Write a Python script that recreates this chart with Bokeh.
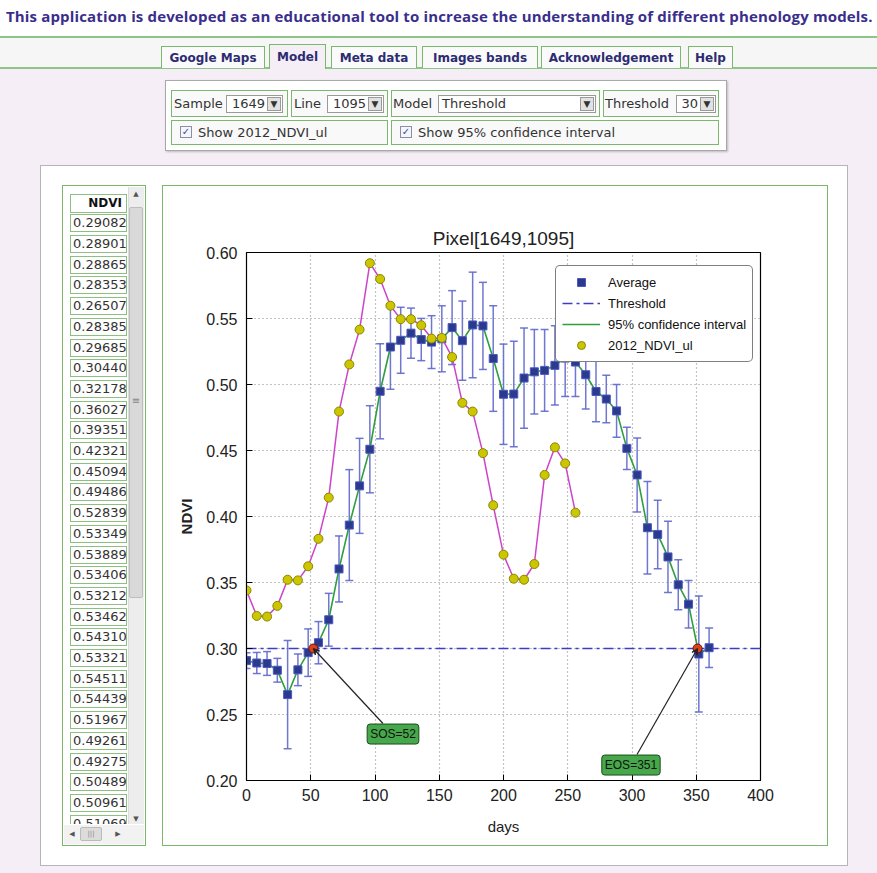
from bokeh.plotting import figure
from bokeh.models import (ColumnDataSource, Whisker, TeeHead, Legend, LegendItem, Label,
                          Arrow, VeeHead, FixedTicker, Div, Range1d)
from bokeh.layouts import column, row
from bokeh.embed import file_html
from bokeh.resources import INLINE

# ---------------- data ----------------
AVG_DAYS = [0, 8, 16, 24, 32, 40, 48, 56, 64, 72, 80, 88, 96, 104, 112, 120, 128, 136, 144, 152,
            160, 168, 176, 184, 192, 200, 208, 216, 224, 232, 240, 248, 256, 264, 272, 280, 288,
            296, 304, 312, 320, 328, 336, 344, 352, 360]
AVG_NDVI = [0.29082, 0.28901, 0.28865, 0.28353, 0.26507, 0.28385, 0.29685, 0.30440, 0.32178,
            0.36027, 0.39351, 0.42321, 0.45094, 0.49486, 0.52839, 0.53349, 0.53889, 0.53406,
            0.53212, 0.53462, 0.54310, 0.53321, 0.54511, 0.54439, 0.51967, 0.49261, 0.49275,
            0.50489, 0.50961, 0.51069, 0.51450, 0.52000, 0.51700, 0.50740, 0.49470, 0.48900,
            0.48000, 0.45160, 0.43150, 0.39150, 0.38640, 0.36940, 0.34830, 0.33360, 0.29580,
            0.30060]
AVG_ERR = [0.006, 0.008, 0.009, 0.009, 0.041, 0.012, 0.018, 0.016, 0.020, 0.025, 0.042, 0.036,
           0.033, 0.036, 0.032, 0.025, 0.019, 0.016, 0.020, 0.025, 0.028, 0.030, 0.040, 0.033,
           0.040, 0.038, 0.040, 0.038, 0.032, 0.031, 0.030, 0.029, 0.026, 0.026, 0.023, 0.018,
           0.020, 0.016, 0.028, 0.035, 0.026, 0.027, 0.019, 0.018, 0.044, 0.015]
NDVI2012_DAYS = [0, 8, 16, 24, 32, 40, 48, 56, 64, 72, 80, 88, 96, 104, 112, 120, 128, 136, 144,
                 152, 160, 168, 176, 184, 192, 200, 208, 216, 224, 232, 240, 248, 256]
NDVI2012 = [0.3440, 0.3247, 0.3242, 0.3323, 0.3521, 0.3516, 0.3623, 0.3831, 0.4143, 0.4795,
            0.5152, 0.5416, 0.5919, 0.5799, 0.5597, 0.5495, 0.5495, 0.5449, 0.5348, 0.5353,
            0.5208, 0.4861, 0.4795, 0.4480, 0.4085, 0.3711, 0.3529, 0.3521, 0.3640, 0.4315,
            0.4524, 0.4402, 0.4029]
THRESHOLD = 0.30
SOS_DAY = 52
EOS_DAY = 351
X_MIN, X_MAX = 0, 400
Y_MIN, Y_MAX = 0.20, 0.60
X_TICKS = [0, 50, 100, 150, 200, 250, 300, 350, 400]
Y_TICKS = [0.20, 0.25, 0.30, 0.35, 0.40, 0.45, 0.50, 0.55, 0.60]
Y_TICK_LABELS = ["0.20", "0.25", "0.30", "0.35", "0.40", "0.45", "0.50", "0.55", "0.60"]
SAMPLE = "1649"
LINE = "1095"
MODEL = "Threshold"
THRESHOLD_PCT = "30"
TABS = ["Google Maps", "Model", "Meta data", "Images bands", "Acknowledgement", "Help"]
HEADER = ("This application is developed as an educational tool to increase the "
          "understanding of different phenology models.")
TABLE_ROWS_SHOWN = 30

# annotation placement (label centre and arrow tail, data units)
SOS_LABEL_POS = (114.0, 0.2352)
SOS_ARROW_TAIL = (106.2, 0.2432)
EOS_LABEL_POS = (299.2, 0.2117)
EOS_ARROW_TAIL = (303.9, 0.2197)

# ---------------- chart ----------------
FONT = "Liberation Sans"
p = figure(width=664, height=659, x_range=Range1d(X_MIN, X_MAX), y_range=Range1d(Y_MIN, Y_MAX),
           output_backend="svg", toolbar_location=None,
           min_border_left=83, min_border_right=67, min_border_top=66, min_border_bottom=65,
           background_fill_color="white", border_fill_color="white", margin=(0, 0, 0, 0))
p.title.text = f"Pixel[{SAMPLE},{LINE}]"
p.title.align = "center"
p.title.text_font = FONT
p.title.text_font_size = "19px"
p.title.text_font_style = "normal"
p.title.text_color = "#222222"
p.title.standoff = 7
p.outline_line_color = "black"
p.outline_line_width = 1.2

xt = FixedTicker(ticks=X_TICKS)
yt = FixedTicker(ticks=Y_TICKS)
p.xaxis.ticker = xt
p.yaxis.ticker = yt
p.xgrid.ticker = xt
p.ygrid.ticker = yt
p.yaxis.major_label_overrides = {t: s for t, s in zip(Y_TICKS, Y_TICK_LABELS)}
for ax in (p.xaxis[0], p.yaxis[0]):
    ax.major_tick_in = 6
    ax.major_tick_out = 0
    ax.minor_tick_line_color = None
    ax.axis_line_color = "black"
    ax.major_tick_line_color = "black"
    ax.major_label_text_font = FONT
    ax.major_label_text_font_size = "16px"
    ax.major_label_text_color = "#222222"
    ax.axis_label_text_font = FONT
    ax.axis_label_text_font_size = "15px"
    ax.axis_label_text_color = "#222222"
p.xaxis.major_label_standoff = 8
p.yaxis.major_label_standoff = 9
p.xaxis.axis_label = "days"
p.xaxis.axis_label_text_font_style = "normal"
p.xaxis.axis_label_standoff = 14
p.yaxis.axis_label = "NDVI"
p.yaxis.axis_label_text_font_style = "bold"
p.yaxis.axis_label_standoff = 8
for g in (p.xgrid[0], p.ygrid[0]):
    g.grid_line_color = "#8a8a8a"
    g.grid_line_dash = "1 3"
    g.grid_line_width = 1.2

src = ColumnDataSource(dict(
    x=AVG_DAYS, y=AVG_NDVI,
    upper=[v + e for v, e in zip(AVG_NDVI, AVG_ERR)],
    lower=[v - e for v, e in zip(AVG_NDVI, AVG_ERR)]))

ERR_COL = "#5f68cc"
r_th = p.line(x=[X_MIN, X_MAX], y=[THRESHOLD, THRESHOLD], line_color="#3c3cc8",
              line_width=1.6, line_dash="10 4 3 4")
wh = Whisker(source=src, base="x", upper="upper", lower="lower", line_color=ERR_COL,
             line_width=1.5, line_alpha=0.9,
             upper_head=TeeHead(size=8, line_color=ERR_COL, line_width=1.5, line_alpha=0.9),
             lower_head=TeeHead(size=8, line_color=ERR_COL, line_width=1.5, line_alpha=0.9))
p.add_layout(wh)
r_green = p.line("x", "y", source=src, line_color="#2e9e3e", line_width=1.6)
r_sq = p.scatter("x", "y", source=src, marker="square", size=8, fill_color="#2c3a8e",
                 line_color="#4a58c0", line_width=1)
r_pink = p.line(NDVI2012_DAYS, NDVI2012, line_color="#cc44c8", line_width=1.5)
r_circ = p.scatter(NDVI2012_DAYS, NDVI2012, marker="circle", size=9, fill_color="#cbc600",
                   line_color="#8a8600", line_width=1)
p.scatter([SOS_DAY, EOS_DAY], [THRESHOLD, THRESHOLD], marker="circle", size=9,
          fill_color="#e0401a", line_color="#5a1a10", line_width=1)

for (lx, ly), (ax_, ay_), day, txt in ((SOS_LABEL_POS, SOS_ARROW_TAIL, SOS_DAY, f"SOS={SOS_DAY}"),
                                       (EOS_LABEL_POS, EOS_ARROW_TAIL, EOS_DAY, f"EOS={EOS_DAY}")):
    p.add_layout(Arrow(x_start=ax_, y_start=ay_, x_end=day, y_end=THRESHOLD,
                       line_color="#222222", line_width=1.2,
                       end=VeeHead(size=6, fill_color="#222222", line_color="#222222")))
    p.add_layout(Label(x=lx, y=ly, text=txt, text_align="center", text_baseline="middle",
                       text_font=FONT, text_font_size="12px", text_color="#111111",
                       background_fill_color="#46a84a", border_line_color="#1d4d1d",
                       border_line_width=1, padding=3, border_radius=3))

legend = Legend(items=[LegendItem(label="Average", renderers=[r_sq]),
                       LegendItem(label="Threshold", renderers=[r_th]),
                       LegendItem(label="95% confidence interval", renderers=[r_green]),
                       LegendItem(label="2012_NDVI_ul", renderers=[r_circ])],
                location=(309, 418), padding=6, spacing=1, glyph_width=38, glyph_height=20,
                label_height=20, label_standoff=8, label_text_font=FONT,
                label_text_font_size="13px", label_text_color="#111111",
                border_line_color="black", border_line_width=1,
                background_fill_color="white", background_fill_alpha=1.0)
if "border_radius" in Legend.properties():
    legend.border_radius = 5
p.add_layout(legend)

# ---------------- page chrome ----------------
LAV = "#f6eef6"
GREEN = "#7ab86c"
SANS = "'DejaVu Sans', sans-serif"
E = []


def el(x, y, w, h, style="", inner=""):
    E.append((x, y, w, h, style, inner))


el(0, 0, 877, 873, f"background:{LAV};")
el(0, 0, 877, 37, "background:#ffffff;")
el(6, 5, 871, 22, "color:#3a2e8c;font:bold 15px 'Open Sans',sans-serif;white-space:nowrap;"
   "line-height:22px;letter-spacing:0.15px;", HEADER)
el(0, 36, 877, 2, "background:#8cc585;")
el(0, 38, 877, 30, "background:#f6f6f6;")
el(0, 67, 877, 2, "background:#8cc585;")
tab_geo = [(161, 104), (269, 57), (331, 86), (422, 116), (541, 140), (688, 45)]
for name, (tx, tw) in zip(TABS, tab_geo):
    active = name == "Model"
    top = 44 if active else 46
    hh = 25 if active else 22
    bg = LAV if active else "#fafafa"
    el(tx, top, tw, hh, f"background:{bg};border:1px solid {GREEN};border-bottom:none;"
       f"color:#2c2c72;font:bold 12px {SANS};text-align:center;line-height:{hh}px;"
       "white-space:nowrap;", name)

# controls panel
el(165, 80, 562, 71, "background:#ffffff;border:1px solid #a8a8a8;box-shadow:1px 1px 2px #bbbbbb;")
BOX = f"background:#f9f9f9;border:1px solid {GREEN};"
LBL = f"color:#333333;font:13px {SANS};line-height:17px;white-space:nowrap;"
SEL = "background:#ffffff;border:1px solid #9a9a9a;"
ARR = (f"background:#e2e2e2;border:1px solid #9a9a9a;color:#333;font:9px {SANS};"
       "text-align:center;line-height:13px;")


def select(x, w, val, left=False):
    el(x, 95, w, 18, SEL)
    align = "left;padding-left:4px" if left else "right;padding-right:18px"
    el(x, 95, w, 18, f"color:#333333;font:13px {SANS};line-height:17px;text-align:{align};"
       "white-space:nowrap;", val)
    el(x + w - 16, 97, 14, 14, ARR, "▼")


el(171, 90, 117, 27, BOX)
el(174, 95, 50, 18, LBL, "Sample")
select(226, 57, SAMPLE)
el(291, 90, 97, 27, BOX)
el(294, 95, 30, 18, LBL, "Line")
select(327, 57, LINE)
el(391, 90, 209, 27, BOX)
el(393, 95, 44, 18, LBL, "Model")
select(438, 158, MODEL, left=True)
el(603, 90, 116, 27, BOX)
el(605, 95, 68, 18, LBL, "Threshold")
select(676, 40, THRESHOLD_PCT)
CHK = (f"background:#f4f6fb;border:1px solid #8a8fa8;color:#3b4fa8;font:10px {SANS};"
       "text-align:center;line-height:10px;")
el(171, 120, 217, 25, BOX)
el(180, 126, 12, 12, CHK, "✓")
el(198, 124, 180, 18, LBL, "Show 2012_NDVI_ul")
el(391, 120, 328, 25, BOX)
el(400, 126, 12, 12, CHK, "✓")
el(418, 124, 290, 18, LBL, "Show 95% confidence interval")

# main panel
el(40, 165, 808, 701, "background:#ffffff;border:1px solid #b5b5b5;")
el(62, 185, 84, 661, f"background:#ffffff;border:1px solid {GREEN};")
CELL = (f"position:absolute;left:0;width:57px;height:18px;box-sizing:border-box;"
        f"background:#fff;border:1px solid #8cbf80;overflow:hidden;white-space:nowrap;")
cells = [f'<div style="{CELL}top:0;height:19px;text-align:right;padding-right:4px;'
         f'font:bold 12px {SANS};line-height:17px;color:#111;">NDVI</div>']
for i, v in enumerate(AVG_NDVI[:TABLE_ROWS_SHOWN]):
    top = 20.3 + i * 20.7
    cells.append(f'<div style="{CELL}top:{top:.1f}px;padding-left:2px;font:13px {SANS};'
                 f'line-height:16px;color:#333;">{v:.5f}</div>')
el(70, 194, 58, 630, "overflow:hidden;", "".join(cells))
# scrollbars
el(128, 187, 16, 637, "background:#ededed;border-left:1px solid #dcdcdc;")
el(128, 189, 16, 10, f"color:#555;font:7px {SANS};text-align:center;line-height:10px;", "▲")
el(129, 207, 14, 391, "background:#d9d9d9;border:1px solid #bdbdbd;border-radius:2px;")
el(129, 395, 14, 12, f"color:#888;font:10px {SANS};text-align:center;line-height:12px;", "≡")
el(128, 814, 16, 10, f"color:#555;font:7px {SANS};text-align:center;line-height:10px;", "▼")
el(64, 825, 80, 19, "background:#f2f2f2;")
el(66, 829, 12, 10, f"color:#555;font:7px {SANS};text-align:center;line-height:10px;", "◀")
el(80, 827, 22, 14, "background:#dcdcdc;border:1px solid #bbbbbb;border-radius:2px;")
el(80, 828, 22, 12, f"color:#888;font:7px {SANS};text-align:center;line-height:12px;", "|||")
el(112, 829, 12, 10, f"color:#555;font:7px {SANS};text-align:center;line-height:10px;", "▶")
# plot panel border
el(162, 185, 666, 661, f"background:#ffffff;border:1px solid {GREEN};")


def render(ox, oy, W, H):
    parts = []
    for (x, y, w, h, style, inner) in E:
        if x >= ox + W or x + w <= ox or y >= oy + H or y + h <= oy:
            continue
        parts.append(f'<div style="position:absolute;left:{x - ox}px;top:{y - oy}px;'
                     f'width:{w}px;height:{h}px;box-sizing:border-box;{style}">{inner}</div>')
    return (f'<div style="position:relative;width:{W}px;height:{H}px;overflow:hidden;">'
            + "".join(parts) + "</div>")


def make_div(ox, oy, W, H):
    return Div(text=render(ox, oy, W, H), width=W, height=H, margin=(0, 0, 0, 0),
               styles={"overflow": "hidden"})


FIG_X, FIG_Y, FIG_W, FIG_H = 163, 186, 664, 659
top_div = make_div(0, 0, 877, FIG_Y)
left_div = make_div(0, FIG_Y, FIG_X, FIG_H)
right_div = make_div(FIG_X + FIG_W, FIG_Y, 877 - FIG_X - FIG_W, FIG_H)
bottom_div = make_div(0, FIG_Y + FIG_H, 877, 873 - FIG_Y - FIG_H)

mid = row(children=[left_div, p, right_div], spacing=0, margin=(0, 0, 0, 0))
root = column(children=[top_div, mid, bottom_div], spacing=0, margin=(0, 0, 0, 0))

open("out.html", "w").write(file_html(root, INLINE))
